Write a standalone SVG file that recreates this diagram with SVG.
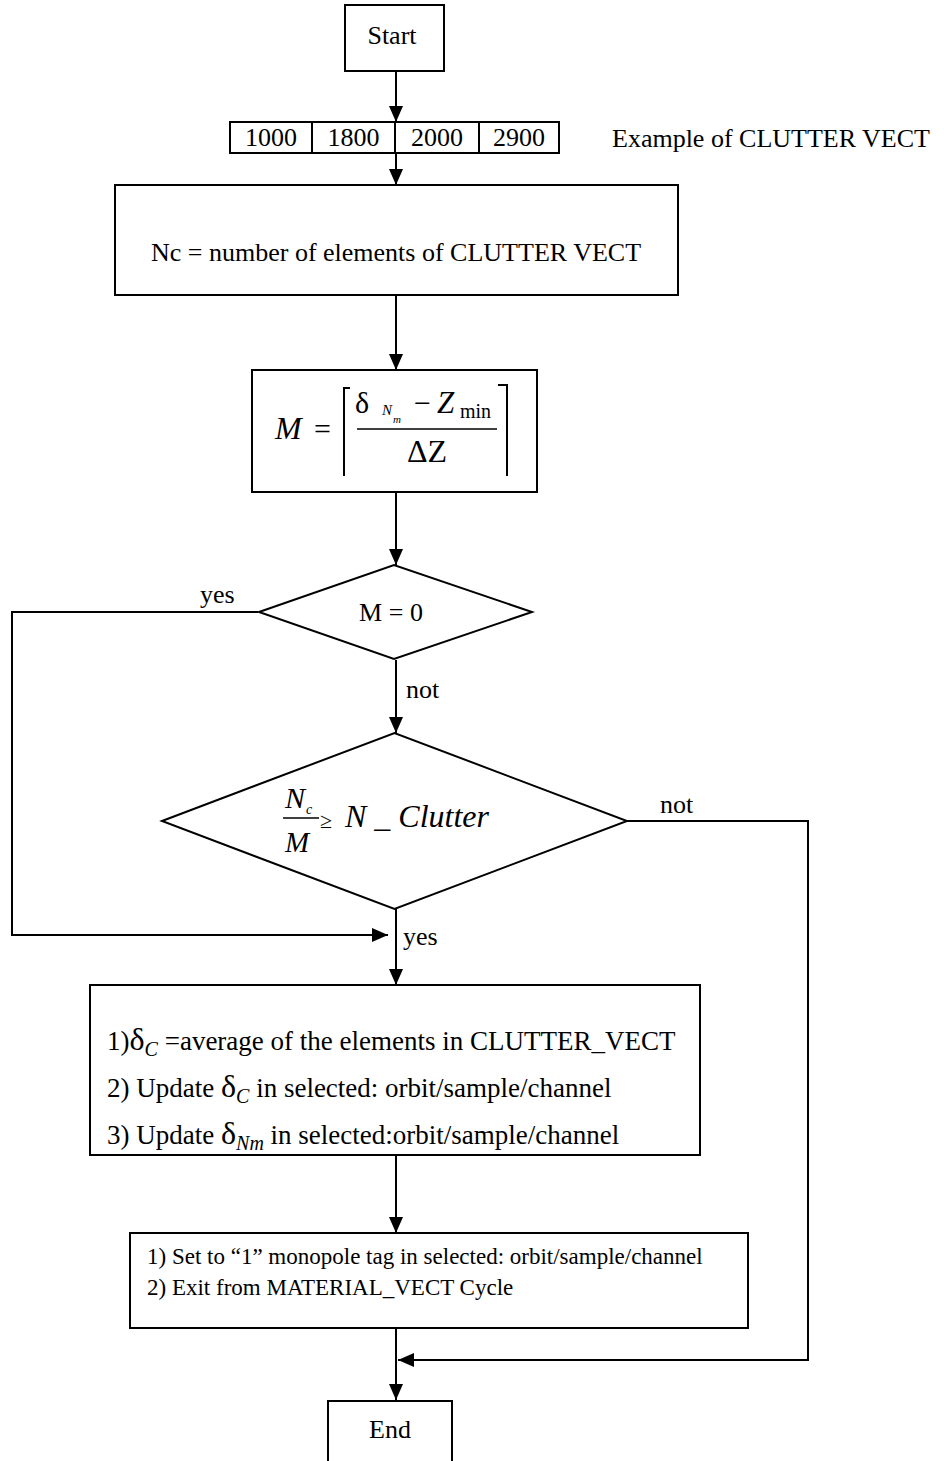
<svg xmlns="http://www.w3.org/2000/svg" width="944" height="1461" viewBox="0 0 944 1461">
<style>
.b{fill:#fff;stroke:#000;stroke-width:2}
.c{fill:none;stroke:#000;stroke-width:2}
text{font-family:"Liberation Serif","Times New Roman",serif;fill:#000}
.t{font-size:26px}
.i{font-style:italic}
</style>
<defs>
<marker id="ah2" markerWidth="16" markerHeight="14" viewBox="0 0 16 14" refX="16" refY="7" orient="auto" markerUnits="userSpaceOnUse">
<path d="M0,0 L16,7 L0,14 Z" fill="#000"/>
</marker>
</defs>
<rect width="944" height="1461" fill="#fff"/>

<g id="connectors">
<path class="c" d="M396,70 V122" marker-end="url(#ah2)"/>
<path class="c" d="M396,153 V185" marker-end="url(#ah2)"/>
<path class="c" d="M396,295 V370" marker-end="url(#ah2)"/>
<path class="c" d="M396,492 V565" marker-end="url(#ah2)"/>
<path class="c" d="M396,660 V733" marker-end="url(#ah2)"/>
<path class="c" d="M396,909 V985" marker-end="url(#ah2)"/>
<path class="c" d="M258,612 H12 V935 H388" marker-end="url(#ah2)"/>
<path class="c" d="M627,821 H808 V1360 H398" marker-end="url(#ah2)"/>
<path class="c" d="M396,1155 V1233" marker-end="url(#ah2)"/>
<path class="c" d="M396,1328 V1400" marker-end="url(#ah2)"/>
<text class="t" x="200" y="603">yes</text>
<text class="t" x="406" y="698">not</text>
<text class="t" x="660" y="813">not</text>
<text class="t" x="403" y="945">yes</text>
</g>

<g id="start">
<rect class="b" x="345" y="5" width="99" height="66"/>
<text class="t" x="392" y="44" text-anchor="middle">Start</text>
</g>

<g id="vector">
<rect class="b" x="230" y="122" width="329" height="31"/>
<path class="c" d="M312,122 V153 M395,122 V153 M479,122 V153"/>
<text class="t" x="271" y="146" text-anchor="middle">1000</text>
<text class="t" x="353.5" y="146" text-anchor="middle">1800</text>
<text class="t" x="437" y="146" text-anchor="middle">2000</text>
<text class="t" x="519" y="146" text-anchor="middle">2900</text>
<text class="t" x="612" y="147">Example of CLUTTER VECT</text>
</g>

<g id="nc">
<rect class="b" x="115" y="185" width="563" height="110"/>
<text class="t" x="396" y="261" text-anchor="middle">Nc = number of elements of CLUTTER VECT</text>
</g>

<g id="mformula">
<rect class="b" x="252" y="370" width="285" height="122"/>
<text class="i" x="275" y="439" font-size="32">M</text>
<text x="314" y="439" font-size="30">=</text>
<path class="c" d="M344,476 V388 H350"/>
<path class="c" d="M498,385 H507 V476"/>
<path d="M357,429 H497" stroke="#000" stroke-width="1.5"/>
<text x="355" y="413" font-size="30">δ</text>
<text class="i" x="382" y="415" font-size="15">N</text>
<text class="i" x="393" y="423" font-size="11">m</text>
<text x="414" y="413" font-size="30">−</text>
<text class="i" x="437" y="413" font-size="31">Z</text>
<text x="460" y="418" font-size="20">min</text>
<text x="407" y="462" font-size="32">ΔZ</text>
</g>

<g id="m0">
<polygon class="b" points="259,612 394,565 532,612 394,659"/>
<text class="t" x="391" y="621" text-anchor="middle">M = 0</text>
</g>

<g id="ratio">
<polygon class="b" points="162,821 394.5,733 627,821 394.5,909"/>
<text class="i" x="285" y="808" font-size="30">N</text>
<text class="i" x="306" y="814" font-size="14">c</text>
<path d="M283,818 H319" stroke="#000" stroke-width="1.5"/>
<text class="i" x="285" y="852" font-size="29">M</text>
<text x="320" y="828" font-size="22">≥</text>
<text class="i" x="345" y="827" font-size="32">N _ Clutter</text>
</g>

<g id="update">
<rect class="b" x="90" y="985" width="610" height="170"/>
<text x="107" y="1050" font-size="27">1)<tspan font-size="32">δ</tspan><tspan class="i" font-size="20" dy="6">C</tspan><tspan dy="-6"> =average of the elements in CLUTTER_VECT</tspan></text>
<text x="107" y="1097" font-size="27">2) Update <tspan font-size="32">δ</tspan><tspan class="i" font-size="20" dy="6">C</tspan><tspan dy="-6">  in selected: orbit/sample/channel</tspan></text>
<text x="107" y="1144" font-size="27">3) Update <tspan font-size="32">δ</tspan><tspan class="i" font-size="20" dy="6">Nm</tspan><tspan dy="-6">  in selected:orbit/sample/channel</tspan></text>
</g>

<g id="settag">
<rect class="b" x="130" y="1233" width="618" height="95"/>
<text x="147" y="1264" font-size="23">1) Set to “1” monopole tag in selected: orbit/sample/channel</text>
<text x="147" y="1295" font-size="23">2) Exit from MATERIAL_VECT Cycle</text>
</g>

<g id="end">
<rect class="b" x="328" y="1401" width="124" height="70"/>
<text class="t" x="390" y="1438" text-anchor="middle">End</text>
</g>
</svg>
